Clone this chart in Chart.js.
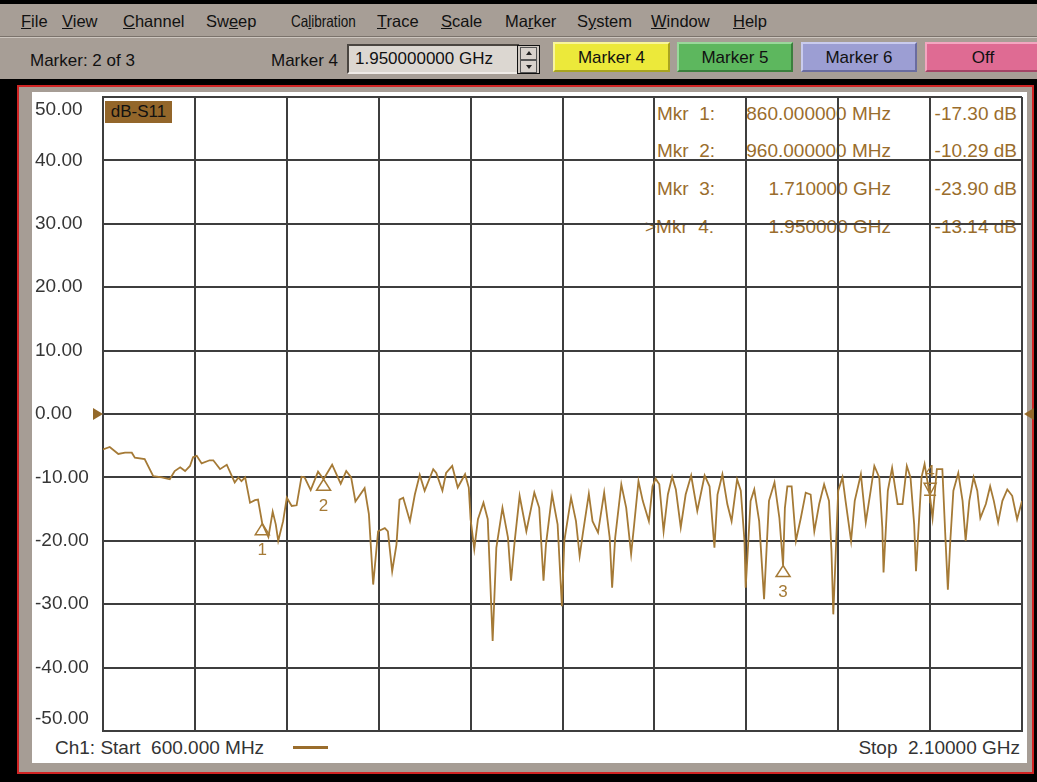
<!DOCTYPE html>
<html>
<head>
<meta charset="utf-8">
<script src="https://cdn.jsdelivr.net/npm/chart.js@4.4.0/dist/chart.umd.min.js"></script>
<style>
body{margin:0;width:1037px;height:782px;overflow:hidden;background:#000;font-family:"Liberation Sans",Arial,sans-serif;position:relative}
.a{position:absolute;white-space:pre}
#menubar{position:absolute;left:0;top:4px;width:1037px;height:32px;background:#a79e96;border-bottom:1px solid #7b736c}
#menubar span{position:absolute;top:0;line-height:34px;font-size:16.5px;color:#111;transform-origin:left center}
#toolbar{position:absolute;left:0;top:37px;width:1037px;height:41px;background:#a79e96;border-top:1px solid #cdc6bf}
#toolbar .t{position:absolute;font-size:17px;color:#111;line-height:20px;top:13px}
.inp{position:absolute;left:347px;top:6px;width:163px;height:26px;background:#dcd7d1;border-top:2px solid #4a4540;border-left:2px solid #4a4540;border-bottom:2px solid #efebe7;border-right:2px solid #efebe7;font-size:17px;line-height:26px;padding-left:6px;box-sizing:content-box;color:#111}
.spin{position:absolute;left:517px;top:7px;width:21px;height:27px;border:1px solid #111;background:#cfc8c1}
.spin div{position:absolute;left:2px;width:15px;height:11px;border:1px solid #555;background:#d8d2cc}
.up:after,.dn:after{content:"";position:absolute;left:5px;width:0;height:0;border-left:3px solid transparent;border-right:3px solid transparent}
.up:after{top:3px;border-bottom:4px solid #222}
.dn:after{top:4px;border-top:4px solid #222}
.btn{position:absolute;top:4px;height:30px;box-sizing:border-box;font-size:17px;line-height:28px;text-align:center;color:#111;border:2px solid;}
#frame{position:absolute;left:17px;top:85px;width:1013px;height:685px;border:2px solid #d02424;background:#a69d95}
#panel{position:absolute;left:32px;top:92px;width:995px;height:671px;background:#fff}
#txt{position:absolute;left:0;top:0;width:1037px;height:782px;z-index:1;color:#9a6d2c;font-size:19px}
#wrap{position:absolute;left:32px;top:92px;z-index:2}
</style>
</head>
<body>
<div id="menubar">
  <span style="left:21px"><u>F</u>ile</span>
  <span style="left:62px"><u>V</u>iew</span>
  <span style="left:123px"><u>C</u>hannel</span>
  <span style="left:206px">Sw<u>e</u>ep</span>
  <span style="left:291px;transform:scaleX(0.82)">Ca<u>l</u>ibration</span>
  <span style="left:377px"><u>T</u>race</span>
  <span style="left:441px"><u>S</u>cale</span>
  <span style="left:505px">Ma<u>r</u>ker</span>
  <span style="left:577px">S<u>y</u>stem</span>
  <span style="left:651px"><u>W</u>indow</span>
  <span style="left:733px"><u>H</u>elp</span>
</div>
<div id="toolbar">
  <div class="t" style="left:30px">Marker: 2 of 3</div>
  <div class="t" style="left:271px">Marker 4</div>
  <div class="inp">1.950000000 GHz</div>
  <div class="spin"><div class="up" style="top:1px"></div><div class="dn" style="top:14px"></div></div>
  <div class="btn" style="left:553px;width:117px;background:#ece93a;border-color:#f8f59a #a8a420 #a8a420 #f8f59a">Marker 4</div>
  <div class="btn" style="left:677px;width:116px;background:#5db75e;border-color:#9ad89b #3b7f3c #3b7f3c #9ad89b">Marker 5</div>
  <div class="btn" style="left:801px;width:116px;background:#9c9ed3;border-color:#c9cbee #6a6ca0 #6a6ca0 #c9cbee">Marker 6</div>
  <div class="btn" style="left:925px;width:116px;background:#df6b93;border-color:#f3a6c0 #a44466 #a44466 #f3a6c0">Off</div>
</div>
<div id="frame"></div>
<div id="panel"></div>
<div id="txt">
  <div class="a" style="left:105px;top:101px;width:67px;height:22px;background:#93662a;color:#111;font-size:17px;line-height:22px;text-align:center">dB-S11</div>
  <div class="a" style="left:657px;top:103px;line-height:22px">Mkr  1:</div>
  <div class="a" style="left:700px;width:191px;top:103px;line-height:22px;text-align:right">860.000000 MHz</div>
  <div class="a" style="left:900px;width:117px;top:103px;line-height:22px;text-align:right">-17.30 dB</div>
  <div class="a" style="left:657px;top:140px;line-height:22px">Mkr  2:</div>
  <div class="a" style="left:700px;width:191px;top:140px;line-height:22px;text-align:right">960.000000 MHz</div>
  <div class="a" style="left:900px;width:117px;top:140px;line-height:22px;text-align:right">-10.29 dB</div>
  <div class="a" style="left:657px;top:178px;line-height:22px">Mkr  3:</div>
  <div class="a" style="left:700px;width:191px;top:178px;line-height:22px;text-align:right">1.710000 GHz</div>
  <div class="a" style="left:900px;width:117px;top:178px;line-height:22px;text-align:right">-23.90 dB</div>
  <div class="a" style="left:645px;top:216px;line-height:22px">&gt;Mkr  4:</div>
  <div class="a" style="left:700px;width:191px;top:216px;line-height:22px;text-align:right">1.950000 GHz</div>
  <div class="a" style="left:900px;width:117px;top:216px;line-height:22px;text-align:right">-13.14 dB</div>
  <div class="a" style="left:55px;top:737px;line-height:22px;color:#333">Ch1: Start  600.000 MHz</div>
  <div class="a" style="left:293px;top:746px;width:35px;height:3px;background:#9a6d2c"></div>
  <div class="a" style="left:820px;width:200px;top:737px;line-height:22px;color:#333;text-align:right">Stop  2.10000 GHz</div>
</div>
<div id="wrap"><canvas id="chart" width="1005" height="671"></canvas></div>
<script>
// S11 trace, frequency in MHz, level in dB
const freqMHz = [
  600,611,625,636,647,652,668,682,696,709,
  717,726,734,742,747,753,761,774,780,791,
  802,815,821,826,832,840,848,853,860,870,
  877,882,886,894,900,908,916,924,929,939,
  951,960,974,988,997,1005,1012,1027,1034,1041,
  1049,1060,1065,1072,1079,1084,1090,1101,1109,1117,
  1125,1139,1144,1154,1160,1170,1179,1191,1197,1200,
  1206,1212,1221,1228,1236,1242,1252,1261,1266,1272,
  1280,1291,1304,1312,1319,1323,1333,1342,1349,1353,
  1364,1372,1378,1383,1393,1399,1408,1418,1427,1431,
  1436,1446,1454,1462,1467,1474,1481,1491,1497,1502,
  1508,1515,1522,1529,1535,1543,1551,1560,1570,1582,
  1590,1598,1603,1611,1619,1626,1635,1641,1647,1649,
  1657,1663,1671,1679,1687,1696,1704,1710,1713,1717,
  1724,1731,1739,1747,1755,1761,1769,1777,1785,1789,
  1792,1796,1800,1807,1812,1821,1827,1837,1845,1853,
  1859,1867,1872,1874,1878,1881,1888,1897,1905,1912,
  1918,1924,1927,1936,1941,1950,1954,1961,1970,1975,
  1979,1983,1988,1996,2003,2008,2014,2021,2027,2032,
  2041,2048,2054,2061,2068,2076,2084,2092,2100
];
const s11dB = [
  -5.6,-5.2,-6.3,-6.1,-6.1,-6.9,-7.1,-9.8,-10.0,-10.3,
  -9.0,-8.4,-9.0,-8.2,-6.8,-6.6,-7.8,-7.3,-7.3,-8.7,
  -8.0,-10.8,-10.0,-10.6,-10.0,-14.0,-13.6,-13.5,-17.3,-19.4,
  -15.4,-17.4,-20.0,-16.9,-13.2,-14.5,-14.4,-9.9,-10.0,-12.0,
  -9.1,-10.29,-8.0,-11.0,-9.0,-10.0,-13.8,-11.7,-15.8,-26.9,
  -18.5,-18.0,-18.5,-24.8,-20.6,-13.5,-13.2,-16.9,-12.7,-9.6,
  -12.1,-8.7,-9.3,-12.1,-9.3,-8.2,-11.6,-9.5,-11.6,-16.6,
  -21.3,-16.6,-14.0,-16.6,-35.8,-21.1,-14.8,-19.5,-26.3,-20.0,
  -12.9,-18.5,-12.4,-14.8,-26.3,-20.6,-12.7,-17.4,-30.3,-20.0,
  -13.2,-16.9,-22.4,-19.0,-12.6,-16.9,-18.7,-12.4,-19.5,-27.4,
  -19.5,-11.1,-14.8,-22.1,-17.4,-10.6,-13.7,-16.9,-11.4,-10.2,
  -11.1,-18.5,-12.7,-9.9,-11.9,-17.9,-12.7,-9.7,-15.3,-9.7,
  -11.4,-21.1,-12.7,-9.5,-14.2,-16.9,-10.3,-12.1,-20.0,-27.4,
  -13.7,-11.9,-16.9,-29.2,-13.7,-10.8,-16.4,-23.9,-14.8,-11.4,
  -11.4,-20.0,-16.4,-12.4,-12.7,-18.5,-14.2,-11.1,-13.7,-21.6,
  -31.6,-21.9,-12.1,-10.0,-13.7,-20.0,-13.7,-9.5,-17.1,-12.1,
  -8.2,-10.0,-17.9,-25.0,-17.7,-12.1,-8.5,-14.2,-14.2,-8.2,
  -10.0,-17.4,-24.8,-10.0,-7.9,-13.14,-16.4,-8.7,-8.7,-19.5,
  -27.7,-20.0,-12.1,-9.3,-13.7,-20.0,-13.7,-10.0,-12.1,-16.4,
  -14.2,-11.4,-13.7,-17.1,-13.7,-11.9,-12.9,-16.6,-13.7
];
const markerFreq = [860, 960, 1710, 1950];
const markerDb = [-17.30, -10.29, -23.90, -13.14];
const activeMarker = 3;
const refLevel = 0;

const traceColor = '#a57a36';
const gridColor = '#3e3e3e';
const fontFam = '"Liberation Sans", Arial, sans-serif';

const markerPlugin = {
  id: 'markers',
  afterDatasetsDraw(chart) {
    const {ctx, chartArea, scales: {x, y}} = chart;
    ctx.save();
    ctx.strokeStyle = traceColor;
    ctx.fillStyle = traceColor;
    ctx.lineWidth = 1.5;
    ctx.font = '17px ' + fontFam;
    ctx.textAlign = 'center';
    ctx.textBaseline = 'middle';
    markerFreq.forEach((f, i) => {
      const px = x.getPixelForValue(f);
      const py = y.getPixelForValue(markerDb[i]);
      ctx.beginPath();
      if (i === activeMarker) {
        ctx.moveTo(px - 6, py - 14); ctx.lineTo(px + 6, py - 14); ctx.lineTo(px, py - 3); ctx.closePath();
        ctx.moveTo(px, py - 12); ctx.lineTo(px, py + 6);
        ctx.moveTo(px - 6, py - 2); ctx.lineTo(px + 6, py - 2);
        ctx.stroke();
        ctx.fillText(String(i + 1), px, py - 25);
      } else {
        ctx.moveTo(px, py); ctx.lineTo(px + 7, py + 11); ctx.lineTo(px - 7, py + 11); ctx.closePath();
        ctx.stroke();
        ctx.fillText(String(i + 1), px, py + 27);
      }
    });
    // reference level arrows on both sides
    const y0 = y.getPixelForValue(refLevel);
    ctx.fillStyle = '#94692a';
    ctx.beginPath();
    ctx.moveTo(chartArea.left - 10, y0 - 6); ctx.lineTo(chartArea.left - 10, y0 + 6); ctx.lineTo(chartArea.left, y0); ctx.closePath();
    ctx.fill();
    ctx.beginPath();
    ctx.moveTo(chartArea.right + 12, y0 - 6); ctx.lineTo(chartArea.right + 12, y0 + 6); ctx.lineTo(chartArea.right + 2, y0); ctx.closePath();
    ctx.fill();
    ctx.restore();
  }
};

const ctx = document.getElementById('chart').getContext('2d');
new Chart(ctx, {
  type: 'line',
  data: {
    datasets: [{
      label: 'dB-S11',
      data: freqMHz.map((f, i) => ({x: f, y: s11dB[i]})),
      borderColor: traceColor,
      borderWidth: 1.8,
      pointRadius: 0,
      tension: 0,
      fill: false
    }]
  },
  options: {
    responsive: false,
    animation: false,
    layout: {padding: {left: 3, right: 15, top: 5, bottom: 32}},
    plugins: {legend: {display: false}, tooltip: {enabled: false}},
    scales: {
      x: {
        type: 'linear', min: 600, max: 2100,
        ticks: {display: false, stepSize: 150},
        grid: {color: gridColor, lineWidth: 2, drawTicks: false},
        border: {color: gridColor, width: 2},
        afterFit(scale) { scale.paddingLeft = 0; scale.paddingRight = 0; }
      },
      y: {
        min: -50, max: 50,
        ticks: {
          stepSize: 10, crossAlign: 'far', padding: 0, color: '#363636',
          font: {family: fontFam, size: 19, lineHeight: 1.3},
          callback: (v) => {
            const s = v.toFixed(2);
            if (v === 50) return ['', s];
            if (v === -50) return [s, ''];
            return s;
          }
        },
        grid: {color: gridColor, lineWidth: 2, drawTicks: false},
        border: {color: gridColor, width: 2},
        afterFit(scale) { scale.width = 68; scale.paddingTop = 0; scale.paddingBottom = 0; }
      }
    }
  },
  plugins: [markerPlugin]
});
</script>
</body>
</html>
